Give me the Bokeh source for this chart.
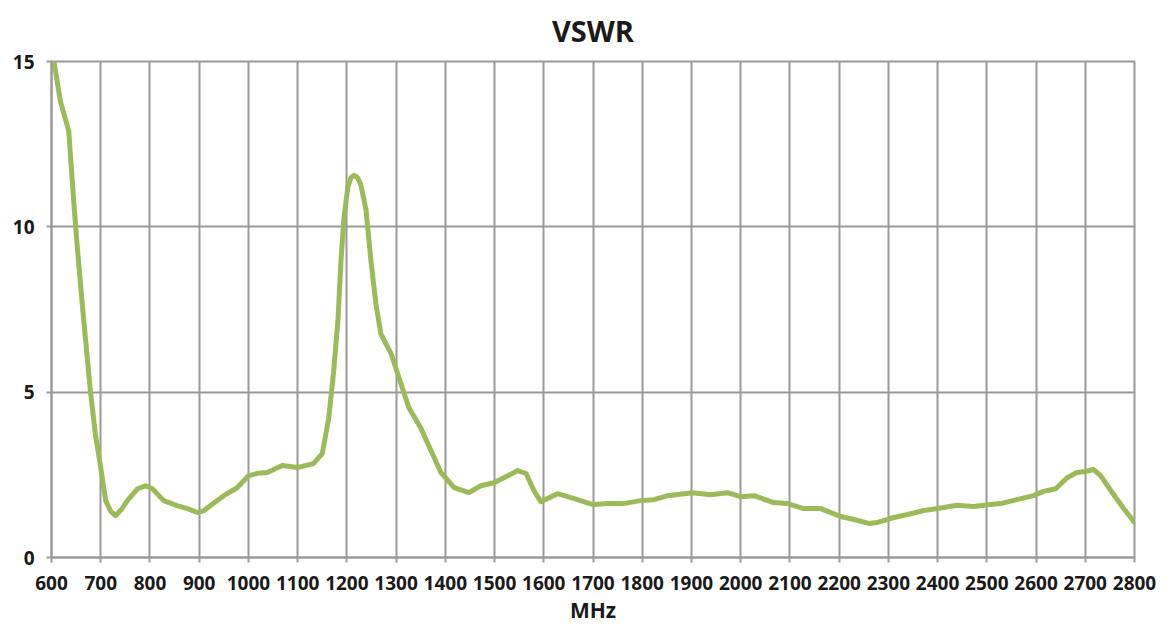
from bokeh.plotting import figure
from bokeh.models import FixedTicker, Range1d
from bokeh.embed import file_html
from bokeh.resources import INLINE

title_text = "VSWR"
x_label = "MHz"
x_ticks = list(range(600, 2801, 100))
y_ticks = [0, 5, 10, 15]

freq = [605, 618, 635, 645, 653, 665, 679, 689, 700, 710, 720, 730, 742, 754,
        775, 791, 805, 828, 855, 876, 896, 910, 923, 950, 977, 1000, 1020, 1038,
        1069, 1099, 1132, 1150, 1163, 1173, 1182, 1188, 1194, 1202, 1208, 1214, 1221, 1228,
        1239, 1249, 1259, 1269, 1290, 1306, 1326, 1350, 1371, 1391, 1418, 1448,
        1472, 1499, 1527, 1547, 1564, 1580, 1594, 1628, 1662, 1700, 1730, 1761,
        1797, 1824, 1852, 1902, 1939, 1973, 2000, 2027, 2067, 2095, 2128, 2163,
        2203, 2230, 2260, 2278, 2311, 2339, 2372, 2400, 2440, 2473, 2507, 2528,
        2561, 2595, 2615, 2640, 2663, 2683, 2700, 2717, 2731, 2752, 2778, 2800]
vswr = [15.0, 13.8, 12.9, 10.8, 9.27, 7.25, 5.04, 3.74, 2.72, 1.72, 1.4, 1.27, 1.45, 1.72,
        2.08, 2.17, 2.08, 1.72, 1.57, 1.48, 1.36, 1.42, 1.57, 1.87, 2.11, 2.47, 2.55, 2.57,
        2.78, 2.72, 2.84, 3.14, 4.2, 5.6, 7.2, 8.96, 10.26, 11.2, 11.48, 11.56, 11.5, 11.3,
        10.5, 8.96, 7.67, 6.76, 6.16, 5.43, 4.53, 3.92, 3.23, 2.57, 2.11, 1.96,
        2.17, 2.26, 2.47, 2.63, 2.54, 2.02, 1.69, 1.93, 1.78, 1.6, 1.63, 1.63,
        1.72, 1.75, 1.87, 1.96, 1.9, 1.96, 1.84, 1.87, 1.66, 1.63, 1.48, 1.48,
        1.24, 1.15, 1.03, 1.06, 1.21, 1.3, 1.42, 1.48, 1.58, 1.54, 1.6, 1.63,
        1.75, 1.87, 2.0, 2.08, 2.41, 2.57, 2.6, 2.66, 2.48, 2.02, 1.48, 1.06]

FONT = "Open Sans"
GRID = "#999999"
TXT = "#1a1a1a"

p = figure(width=1168, height=626, output_backend="svg", toolbar_location=None,
           x_range=Range1d(600, 2800), y_range=Range1d(0, 15),
           title=title_text, min_border_left=51, min_border_right=34,
           min_border_top=60, min_border_bottom=69)

p.title.align = "center"
p.title.text_font = FONT
p.title.text_font_size = "29px"
p.title.text_font_style = "bold"
p.title.text_color = TXT
p.title.standoff = 20
p.title.vertical_align = "top"
p.title.text_line_height = 1.0

p.outline_line_color = GRID
p.outline_line_width = 2
p.background_fill_color = "white"
p.border_fill_color = "white"

p.xaxis.ticker = FixedTicker(ticks=x_ticks)
p.yaxis.ticker = FixedTicker(ticks=y_ticks)
p.xgrid.ticker = FixedTicker(ticks=x_ticks)
p.ygrid.ticker = FixedTicker(ticks=y_ticks)
for g in (p.xgrid, p.ygrid):
    g.grid_line_color = GRID
    g.grid_line_width = 2

for ax in (p.xaxis, p.yaxis):
    ax.axis_line_color = GRID
    ax.axis_line_width = 2
    ax.major_tick_line_color = GRID
    ax.major_tick_line_width = 2
    ax.major_tick_out = 5
    ax.major_tick_in = 0
    ax.minor_tick_line_color = None
    ax.major_label_text_font = FONT
    ax.major_label_text_font_size = "19px"
    ax.major_label_text_font_style = "bold"
    ax.major_label_text_color = TXT

p.xaxis.major_label_standoff = 13
p.yaxis.major_label_standoff = 12
p.xaxis.axis_label = x_label
p.xaxis.axis_label_text_font = FONT
p.xaxis.axis_label_text_font_size = "21px"
p.xaxis.axis_label_text_font_style = "bold"
p.xaxis.axis_label_text_color = TXT
p.xaxis.axis_label_standoff = 3

p.line(freq, vswr, line_color="#9BBB59", line_width=5, line_join="round", line_cap="round")

open("out.html", "w").write(file_html(p, INLINE))
